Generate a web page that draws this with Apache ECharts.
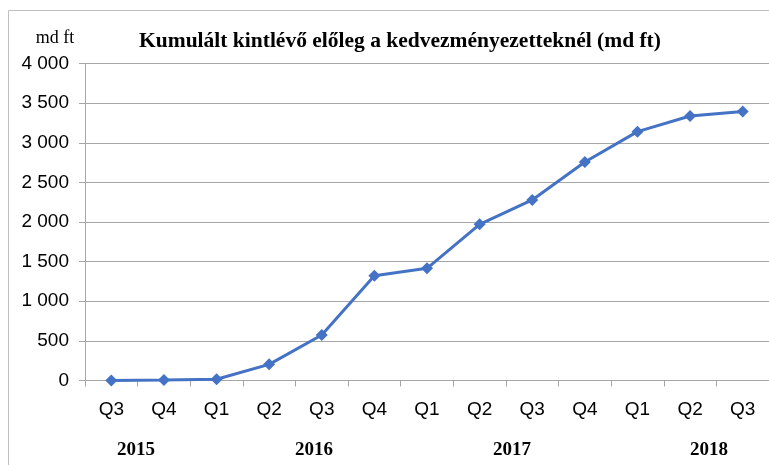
<!DOCTYPE html>
<html><head><meta charset="utf-8">
<script src="https://cdn.jsdelivr.net/npm/echarts@6/dist/echarts.min.js"></script>
<style>html,body{margin:0;padding:0;background:#fff}#c{width:769px;height:465px}</style>
</head><body><div id="c"></div>
<script>
var categories = ['Q3','Q4','Q1','Q2','Q3','Q4','Q1','Q2','Q3','Q4','Q1','Q2','Q3'];
var values = [0, 5, 15, 204, 574, 1322, 1416, 1971, 2278, 2757, 3140, 3338, 3395];
var years = ['2015','2016','2017','2018'];
var yearX = [136, 314, 512, 709];
var title = 'Kumulált kintlévő előleg a kedvezményezetteknél (md ft)';
var unit = 'md ft';

var chart = echarts.init(document.getElementById('c'), null, {renderer:'canvas'});
var gfx = [
  {type:'rect', shape:{x:8.5,y:10.5,width:800,height:500}, style:{fill:'none', stroke:'#bfbfbf', lineWidth:1}, silent:true},
  {type:'text', x:55, y:38, style:{text:unit, font:'18px "Liberation Serif"', fill:'#000', textAlign:'center', textVerticalAlign:'middle'}},
  {type:'text', x:400, y:41, style:{text:title, font:'bold 21.5px "Liberation Serif"', fill:'#000', textAlign:'center', textVerticalAlign:'middle'}}
];
years.forEach(function(y,i){
  gfx.push({type:'text', x:yearX[i], y:450, style:{text:y, font:'bold 19px "Liberation Serif"', fill:'#000', textAlign:'center', textVerticalAlign:'middle'}});
});
chart.setOption({
  animation:false,
  grid:{left:85, right:-6, top:63.5, bottom:84.5, containLabel:false},
  xAxis:{type:'category', data:categories, boundaryGap:true,
    axisLine:{lineStyle:{color:'#a6a6a6', width:1}},
    axisTick:{show:true, length:6, alignWithLabel:false, lineStyle:{color:'#a6a6a6'}},
    axisLabel:{color:'#000', fontSize:19, fontFamily:'"Liberation Sans", sans-serif', margin:20}},
  yAxis:{type:'value', min:0, max:4000, interval:500,
    axisLine:{show:true, lineStyle:{color:'#a6a6a6', width:1}},
    axisTick:{show:true, length:6, lineStyle:{color:'#a6a6a6'}},
    splitLine:{lineStyle:{color:'#a6a6a6', width:1}},
    axisLabel:{color:'#000', fontSize:19, fontFamily:'"Liberation Sans", sans-serif', margin:16,
      formatter:function(v){return String(v).replace(/\B(?=(\d{3})+(?!\d))/g,' ');}}},
  series:[{type:'line', data:values, symbol:'diamond', symbolSize:12,
    lineStyle:{color:'#4472C4', width:3}, itemStyle:{color:'#4472C4'}}],
  graphic:gfx
});
</script></body></html>
